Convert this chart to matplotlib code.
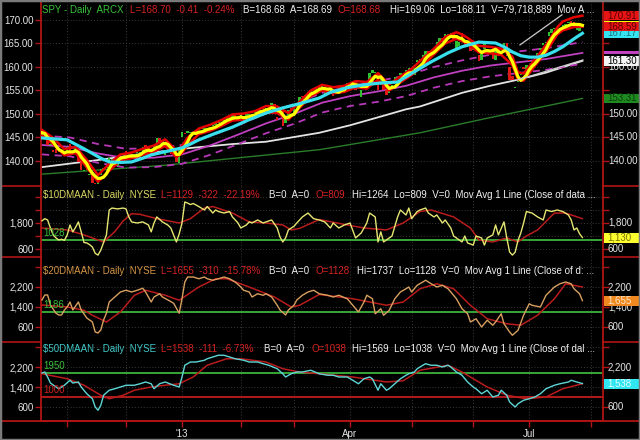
import numpy as np
import pandas as pd
import matplotlib
matplotlib.use("Agg")
import matplotlib.pyplot as plt
from matplotlib.patches import Rectangle
from matplotlib.lines import Line2D

plt.rcParams['font.family'] = ['Liberation Sans', 'DejaVu Sans']

# ------------------------------------------------------------------ data
holidays = ['2012-10-29', '2012-10-30', '2012-11-22', '2012-12-25', '2013-01-01',
            '2013-01-21', '2013-02-18', '2013-03-29', '2013-05-27', '2013-07-04']
first_day, last_cal_day = '2012-10-17', '2013-08-30'

spy_close = [
    146.0, 145.7, 143.4, 143.4, 141.9, 141.6, 141.9, 141.8, 141.4,
    143.0, 141.6, 141.9, 143.0, 139.7, 138.0, 138.1, 138.1, 137.3, 135.3, 135.0, 135.7, 138.4, 138.5, 138.7, 140.7, 140.4, 139.6, 140.8, 141.4, 141.5,
    140.8, 140.6, 140.9, 141.4, 141.8, 141.8, 142.9, 142.9, 142.0, 141.5, 143.2, 144.9, 143.8, 144.5, 142.4, 142.0, 141.5, 141.3, 139.8, 142.4,
    146.1, 145.7, 146.4, 145.9, 145.5, 145.9, 146.9, 146.9, 146.8, 146.9, 146.8, 147.6, 148.0, 148.4, 148.6, 148.6, 149.4, 149.1, 149.7, 149.1, 148.7,
    150.2, 148.4, 149.9, 150.0, 149.8, 150.7, 150.6, 150.9, 151.1, 151.2, 151.2, 152.3, 150.2, 148.7, 150.4, 147.5, 149.0, 150.9, 150.9,
    151.3, 152.1, 153.6, 153.7, 154.0, 154.7, 155.2, 154.9, 155.3, 156.0, 155.8, 155.0, 154.3, 155.5, 153.8, 155.0, 154.5, 156.2, 156.2, 156.7,
    156.1, 156.8, 155.2, 155.9, 155.2, 156.3, 156.8, 158.8, 159.4, 158.8, 155.1, 157.4, 155.1, 154.1, 155.5, 156.2, 157.8, 157.9, 158.5, 158.2, 159.3, 159.7,
    158.2, 159.8, 161.4, 161.8, 162.6, 163.3, 162.8, 163.4, 163.5, 165.4, 166.2, 165.3, 167.0, 166.9, 167.2, 165.9, 165.5, 165.4, 166.1, 164.4, 165.4, 163.4,
    164.4, 163.6, 161.3, 162.7, 165.0, 164.9, 163.1, 161.8, 164.1, 162.4, 163.8, 165.1, 162.3, 157.3, 157.2, 155.6, 157.1, 158.6, 159.6, 160.4,
    161.2, 161.0, 161.3, 163.0, 164.0, 165.2, 165.2, 167.5, 168.0, 168.4, 167.8, 168.3, 169.0, 169.2, 169.6, 169.1, 168.5, 168.9, 169.1, 168.7,
]
spy_open = [
    145.3, 146.0, 145.6, 143.3, 142.4, 142.6, 142.4, 141.7, 141.9,
    141.6, 143.6, 141.5, 142.2, 141.7, 139.8, 137.9, 138.5, 137.1, 137.6, 135.3, 135.2, 137.1, 138.3, 138.6, 139.2, 140.2, 140.3, 139.0, 141.3, 141.5,
    142.2, 140.9, 140.7, 140.9, 141.7, 141.6, 142.0, 143.3, 142.9, 141.8, 141.6, 143.3, 144.8, 143.9, 141.2, 142.3, 142.0, 141.6, 140.6, 139.6,
    145.1, 145.9, 145.9, 145.9, 145.7, 145.9, 146.6, 146.9, 146.7, 146.4, 146.7, 147.4, 147.6, 148.0, 148.6, 148.5, 148.9, 149.4, 148.9, 149.8, 149.0,
    149.6, 149.6, 148.7, 149.7, 150.1, 150.2, 150.6, 150.6, 151.3, 150.7, 151.3, 151.5, 152.1, 149.4, 149.6, 150.9, 148.0, 149.2, 151.2,
    150.1, 151.4, 152.5, 153.9, 153.8, 154.3, 154.6, 155.0, 154.9, 155.6, 155.7, 153.9, 155.2, 155.1, 154.4, 154.4, 155.7, 155.1, 155.4, 156.3,
    156.6, 156.3, 156.9, 155.3, 153.7, 155.3, 156.3, 157.1, 158.8, 158.8, 158.3, 156.2, 156.6, 155.2, 154.5, 155.7, 156.6, 157.6, 158.4, 158.1, 158.5, 159.2,
    159.6, 158.3, 161.0, 161.4, 161.9, 162.3, 163.3, 162.9, 163.2, 163.5, 165.2, 166.1, 165.7, 166.8, 166.9, 167.3, 163.7, 164.4, 167.3, 165.2, 164.6, 164.9,
    163.6, 164.5, 162.6, 161.4, 163.9, 165.1, 163.3, 164.2, 161.4, 163.8, 163.8, 163.8, 165.2, 160.1, 158.0, 155.5, 156.8, 158.2, 159.9, 159.6,
    161.4, 161.0, 160.0, 162.4, 163.6, 164.6, 165.0, 166.7, 167.3, 168.1, 168.3, 167.8, 168.5, 168.8, 169.4, 169.8, 169.6, 167.9, 167.6, 168.68,
]
yellow_window = 5

red_x = [0, 4, 8, 12, 16, 20, 24, 28, 32, 36, 40, 44, 48, 50, 52, 56, 60, 64, 68, 72, 76, 80, 84, 88, 92, 96,
         100, 104, 108, 112, 116, 120, 124, 128, 132, 136, 140, 144, 148, 150, 152, 156, 160, 164, 168, 170,
         172, 176, 180, 184, 186, 190, 193]
red_upper = [146.6, 144.9, 142.5, 143.0, 140.2, 137.0, 139.4, 141.4, 141.8, 142.6, 143.3, 144.6, 142.2, 143.2,
             145.0, 146.9, 147.7, 148.7, 149.9, 150.1, 150.6, 151.7, 151.6, 150.2, 152.6, 155.0, 156.2, 155.7,
             156.0, 157.0, 156.8, 158.7, 156.3, 158.0, 159.6, 161.8, 163.9, 166.4, 167.4, 166.9, 166.2, 164.5,
             164.3, 163.9, 162.2, 158.9, 158.6, 161.6, 164.7, 168.4, 169.7, 170.6, 170.91]
red_lower = [145.4, 143.6, 141.2, 141.7, 138.6, 135.6, 137.9, 140.1, 140.6, 141.3, 142.0, 143.2, 140.8, 141.7,
             143.4, 145.7, 146.4, 147.4, 148.6, 148.8, 149.3, 150.4, 150.2, 148.8, 151.3, 153.8, 155.0, 154.4,
             154.7, 155.7, 155.4, 157.3, 155.0, 156.7, 158.3, 160.3, 162.7, 165.0, 166.0, 165.5, 164.9, 163.1,
             162.9, 162.6, 160.4, 157.3, 157.1, 160.2, 163.2, 166.9, 167.8, 168.5, 168.59]

cyan_pts = [(0, 144.9), (9, 144.5), (15, 142.6), (21, 140.6), (24, 139.8), (28, 139.7), (32, 139.8), (36, 140.6),
            (39, 141.3), (45, 142.1), (50, 142.8), (53, 143.6), (56, 144.5), (62, 145.9), (68, 147.2), (74, 148.8),
            (80, 150.2), (86, 151.3), (92, 152.2), (99, 153.4), (103, 154.6), (109, 155.6), (115, 156.2),
            (121, 156.6), (127, 156.8), (133, 159.0), (139, 161.1), (145, 163.0), (150, 164.3), (156, 165.3),
            (162, 165.1), (165, 164.3), (168, 163.2), (171, 162.4), (174, 162.1), (177, 162.1), (180, 162.5),
            (183, 163.3), (186, 164.3), (190, 166.0), (193, 167.17)]

mag_x = [0, 10, 20, 30, 40, 50, 60, 70, 80, 90, 100, 110, 120, 130, 140, 150, 160, 170, 180, 193]
mag_mid = [143.4, 143.0, 141.6, 140.6, 140.7, 141.4, 143.3, 145.6, 148.0, 150.0, 152.4, 153.8, 154.8, 156.0,
           157.8, 159.2, 160.3, 161.0, 161.7, 163.0]
mag_up = [145.4, 145.0, 143.6, 142.6, 142.7, 143.4, 145.3, 147.6, 150.1, 152.1, 154.5, 155.9, 157.0, 158.2,
          160.0, 161.4, 162.6, 163.3, 164.0, 165.3]
mag_dn = [141.4, 141.0, 139.6, 138.6, 138.7, 139.4, 141.3, 143.6, 145.9, 147.9, 150.3, 151.7, 152.6, 153.8,
          155.6, 157.0, 158.0, 158.7, 159.4, 160.7]

white_pts = [(0, 138.7), (20, 140.2), (33, 141.3), (50, 142.6), (68, 143.6), (80, 144.1), (99, 146.0),
             (110, 147.6), (123, 149.8), (130, 151.0), (135, 151.6), (150, 154.5), (160, 156.0), (170, 157.3),
             (180, 158.8), (193, 161.30)]
green_pts = [(0, 137.2), (44, 139.1), (99, 142.4), (135, 146.0), (159, 149.1), (193, 153.31)]
trend_up = [(170.7, 164.7), (185.7, 171.1)]
trend_dn = [(169.6, 157.2), (193.2, 161.5)]

p10 = [(0, 1900), (1, 2000), (2, 1940), (3, 1570), (4, 1250), (5, 1110), (6, 1015), (7, 1050), (8, 1000), (9, 1250),
       (10, 1710), (11, 1390), (12, 1600), (13, 1850), (14, 1390), (15, 900), (16, 880), (17, 800), (18, 690),
       (19, 400), (20, 320), (21, 550), (22, 900), (23, 1250), (24, 2400), (25, 2490), (27, 2450), (29, 2490),
       (30, 2450), (31, 2080), (32, 1850), (34, 1800), (36, 1850), (38, 1710), (39, 1390), (40, 1800), (41, 2080),
       (43, 1850), (45, 1700), (46, 1570), (47, 1250), (48, 925), (49, 1300), (50, 1800), (51, 2770), (52, 2720),
       (53, 2650), (54, 2700), (55, 2630), (56, 2560), (58, 2400), (59, 2560), (61, 2260), (62, 2400), (63, 2330),
       (65, 2260), (67, 2330), (68, 2080), (69, 1940), (70, 1800), (71, 1570), (73, 1710), (74, 1850), (75, 1800),
       (77, 1940), (79, 1800), (80, 1850), (82, 1940), (84, 1570), (85, 1150), (86, 925), (87, 1110), (88, 1480),
       (90, 1650), (91, 1800), (93, 2080), (95, 2260), (97, 2000), (99, 1940), (101, 1850), (103, 1570),
       (104, 1800), (106, 1570), (108, 1710), (110, 1800), (112, 1110), (114, 1340), (116, 1800), (117, 2260),
       (119, 2080), (120, 925), (121, 1390), (122, 925), (124, 1110), (125, 1200), (127, 2080), (128, 2400),
       (130, 2170), (131, 2490), (132, 2000), (134, 2330), (135, 2400), (137, 2490), (138, 2260), (140, 2080),
       (141, 2170), (143, 1800), (144, 1940), (146, 1570), (147, 1200), (148, 1110), (150, 925), (151, 1200),
       (152, 880), (154, 780), (155, 1200), (157, 1110), (158, 780), (159, 1110), (161, 1250), (162, 1710),
       (163, 1250), (165, 1850), (166, 1110), (167, 460), (168, 320), (169, 460), (170, 1000), (171, 1340),
       (172, 1800), (173, 2330), (175, 2260), (177, 2080), (179, 1940), (180, 2400), (182, 2330), (184, 2400),
       (186, 2330), (188, 2170), (189, 1940), (190, 1480), (191, 1570), (192, 1300), (193, 1130)]
r10 = [(0, 1570), (9, 1480), (15, 1250), (22, 925), (26, 1400), (29, 1900), (32, 2230), (35, 2200), (41, 2000),
       (47, 1850), (49, 1800), (53, 2000), (58, 2490), (61, 2560), (68, 2260), (74, 1850), (80, 1800), (86, 1710),
       (89, 1480), (92, 1550), (99, 1960), (109, 1710), (115, 1570), (123, 1480), (129, 1800), (135, 2330),
       (139, 2400), (147, 2080), (153, 1570), (156, 1020), (161, 925), (166, 1110), (170, 925), (173, 1200),
       (177, 1480), (183, 2260), (187, 2260), (193, 2000)]

p20 = [(0, 1680), (1, 1880), (2, 1880), (3, 1480), (5, 1150), (6, 1080), (7, 1080), (8, 1280), (9, 1400), (10, 1600),
       (11, 1280), (13, 1600), (14, 1280), (16, 960), (18, 800), (19, 400), (20, 360), (21, 480), (22, 880),
       (23, 1150), (24, 1600), (26, 1800), (28, 2000), (30, 2070), (32, 2000), (34, 2070), (36, 2150), (37, 2000),
       (39, 1600), (40, 1800), (42, 1930), (43, 1800), (45, 1680), (47, 1550), (49, 1150), (50, 1730), (51, 2400),
       (52, 2600), (54, 2600), (56, 2530), (58, 2600), (59, 2530), (61, 2470), (63, 2530), (65, 2600), (67, 2530),
       (69, 2400), (71, 2200), (72, 2070), (74, 2000), (75, 1800), (77, 1930), (79, 1870), (80, 1930), (82, 1800),
       (84, 1470), (85, 1280), (87, 1080), (88, 1280), (90, 1470), (91, 1680), (93, 1870), (95, 2000), (97, 2070),
       (99, 1930), (102, 1870), (104, 1800), (106, 1870), (109, 1730), (111, 1470), (113, 1200), (115, 1600),
       (116, 1870), (118, 1730), (119, 1130), (121, 1330), (122, 1070), (124, 1270), (126, 1730), (128, 2000),
       (130, 2130), (131, 2200), (132, 2000), (134, 2270), (136, 2400), (137, 2470), (139, 2330), (141, 2200),
       (143, 2270), (145, 2130), (146, 2000), (148, 1730), (150, 1330), (152, 1130), (153, 800), (155, 930),
       (157, 600), (159, 870), (161, 670), (162, 800), (164, 1130), (165, 730), (167, 400), (168, 270), (170, 470),
       (172, 1070), (174, 1530), (175, 1470), (178, 1400), (180, 1870), (183, 2200), (185, 2330), (187, 2400),
       (189, 2330), (190, 2130), (192, 1930), (193, 1655)]
r20 = [(0, 1480), (9, 1400), (15, 1270), (18, 1070), (23, 800), (28, 1200), (33, 1870), (37, 2070), (44, 1870),
       (49, 1670), (56, 2200), (62, 2530), (66, 2530), (74, 2200), (83, 1800), (89, 1400), (92, 1470), (99, 1900),
       (111, 1730), (123, 1470), (129, 1600), (135, 2130), (141, 2330), (147, 2130), (153, 1470), (159, 930),
       (166, 730), (171, 670), (177, 1070), (183, 1730), (187, 2330), (193, 2200)]

p50 = [(0, 1960), (1, 2000), (2, 1800), (3, 1560), (5, 1400), (6, 1330), (8, 1470), (10, 1670), (11, 1560),
       (13, 1600), (14, 1400), (16, 1130), (18, 930), (19, 600), (20, 470), (21, 670), (22, 1070), (24, 1270),
       (26, 1330), (28, 1400), (30, 1470), (33, 1470), (35, 1530), (37, 1600), (39, 1530), (40, 1330), (42, 1530),
       (44, 1600), (47, 1470), (49, 1400), (50, 1800), (51, 2270), (53, 2400), (55, 2400), (58, 2470), (59, 2530),
       (61, 2600), (63, 2670), (65, 2670), (67, 2600), (69, 2530), (72, 2470), (74, 2400), (77, 2400), (79, 2330),
       (81, 2270), (84, 2130), (86, 1930), (87, 1800), (89, 1930), (91, 2000), (93, 2000), (96, 2070), (99, 1930),
       (102, 1870), (104, 1870), (106, 1800), (109, 1800), (111, 1670), (113, 1530), (115, 1730), (117, 1800),
       (118, 1730), (120, 1270), (121, 1530), (123, 1270), (124, 1330), (126, 1530), (128, 1730), (130, 1870),
       (131, 1930), (133, 2000), (134, 2130), (136, 2270), (137, 2330), (139, 2270), (141, 2270), (143, 2200),
       (145, 2270), (146, 2200), (148, 2000), (150, 1870), (152, 1600), (154, 1400), (155, 1330), (157, 1130),
       (159, 1270), (161, 1000), (163, 1070), (164, 1270), (166, 1070), (167, 800), (169, 600), (170, 730),
       (172, 870), (174, 930), (176, 1000), (178, 1130), (180, 1330), (183, 1470), (185, 1530), (188, 1600),
       (189, 1670), (191, 1600), (193, 1538)]
r50 = [(0, 1930), (9, 1730), (15, 1470), (21, 1070), (24, 930), (29, 1070), (33, 1270), (39, 1400), (44, 1470),
       (49, 1530), (54, 1800), (59, 2270), (66, 2530), (71, 2530), (80, 2400), (86, 2130), (92, 2000), (99, 1930),
       (111, 1800), (123, 1600), (129, 1650), (135, 2070), (145, 2270), (150, 2000), (159, 1400), (166, 1070),
       (173, 930), (180, 1000), (186, 1330), (193, 1530)]

level_10 = 1028
level_20 = 1186
level_50_hi = 1950
level_50_lo = 1000

price_ticks = [140, 145, 150, 155, 160, 165, 170]
price_right = [140, 145, 150, 160]
ticks_10 = [600, 1200, 1800, 2400, 3000]
labels_10 = [600, 1800]
right_10 = [600, 1800]
ticks_2050 = [600, 1400, 2200, 3000]
labels_2050 = [600, 1400, 2200]
right_20 = [600, 1400, 2200]
right_50 = [600, 2200]
month_names = {1: "'13", 4: 'Apr', 7: 'Jul'}

hdr_spy = ['SPY - Daily  ARCX', 'L=168.70  -0.41  -0.24%', 'B=168.68  A=168.69', 'O=168.68',
           'Hi=169.06  Lo=168.11  V=79,718,889  Mov A ...']
hdr_10 = ['$10DMAAN - Daily  NYSE', 'L=1129  -322  -22.19%', 'B=0  A=0', 'O=809',
          'Hi=1264  Lo=809  V=0  Mov Avg 1 Line (Close of data ...']
hdr_20 = ['$20DMAAN - Daily  NYSE', 'L=1655  -310  -15.78%', 'B=0  A=0', 'O=1128',
          'Hi=1737  Lo=1128  V=0  Mov Avg 1 Line (Close of d: ...']
hdr_50 = ['$50DMAAN - Daily  NYSE', 'L=1538  -111  -6.73%', 'B=0  A=0', 'O=1038',
          'Hi=1569  Lo=1038  V=0  Mov Avg 1 Line (Close of dal ...']

assert len(spy_close) == 194 and len(spy_open) == 194
assert len(red_x) == len(red_upper) == len(red_lower)
assert len(mag_x) == len(mag_mid) == len(mag_up) == len(mag_dn)

# ------------------------------------------------------------------ calendar
cal = pd.bdate_range(first_day, last_cal_day)
cal = cal[~cal.isin(pd.to_datetime(holidays))]
month_idx = [i for i in range(1, len(cal)) if cal[i].month != cal[i - 1].month]
month_lab = [month_names.get(cal[i].month, '') for i in month_idx]
days = np.arange(len(spy_close))

# ------------------------------------------------------------------ style
W_PX, H_PX = 640, 440
AX_L, AX_R = 41, 603
XMIN = (AX_L - 42) / 2.8
XMAX = (AX_R - 42) / 2.8
AXC = '#b01414'
LABC = '#e6e6e6'
GRIDC = '#3a3a3a'
RED_T = '#d62222'
WHITE_T = '#f0f0f0'
FS = 7

fig = plt.figure(figsize=(W_PX / 100, H_PX / 100), dpi=100, facecolor='black')


def make_ax(top, bot):
    return fig.add_axes([AX_L / W_PX, 1 - bot / H_PX, (AX_R - AX_L) / W_PX, (bot - top) / H_PX])


ax1 = make_ax(2, 186)
ax2 = make_ax(186, 257)
ax3 = make_ax(257, 342)
ax4 = make_ax(342, 421)


def base_style(ax, ylim, yticks, ylabels):
    ax.set_facecolor('black')
    ax.set_xlim(XMIN, XMAX)
    ax.set_ylim(*ylim)
    for s in ('top', 'bottom'):
        ax.spines[s].set_visible(False)
    for s in ('left', 'right'):
        ax.spines[s].set_color(AXC)
        ax.spines[s].set_linewidth(1.3)
    ax.set_yticks(yticks)
    ax.set_yticklabels(ylabels)
    ax.tick_params(axis='y', left=True, right=True, direction='out', length=4, width=1,
                   color=AXC, labelcolor=LABC, labelsize=FS, pad=1.5,
                   labelleft=True, labelright=False)
    ax.set_xticks(month_idx)
    ax.tick_params(axis='x', bottom=False, labelbottom=False)
    ax.grid(True, color=GRIDC, linestyle=(0, (1, 2)), linewidth=0.7)
    ax.set_axisbelow(True)


base_style(ax1, (134.68, 173.83), price_ticks, [f'{v:.2f}' for v in price_ticks])
base_style(ax2, (231, 3507), ticks_10, [f'{v:,}' if v in labels_10 else '' for v in ticks_10])
base_style(ax3, (0, 3400), ticks_2050, [f'{v:,}' if v in labels_2050 else '' for v in ticks_2050])
base_style(ax4, (40, 3200), ticks_2050, [f'{v:,}' if v in labels_2050 else '' for v in ticks_2050])

ax4.spines['bottom'].set_visible(True)
ax4.spines['bottom'].set_color(AXC)
ax4.spines['bottom'].set_linewidth(1.3)
ax4.set_xticks(month_idx)
ax4.set_xticklabels(month_lab)
ax4.tick_params(axis='x', bottom=True, labelbottom=True, direction='out', length=4, width=1,
                color=AXC, labelcolor=LABC, labelsize=FS, pad=2)


def xy(pts):
    a = np.array(pts, dtype=float)
    return a[:, 0], a[:, 1]


# ------------------------------------------------------------------ main panel
ax1.plot(*xy(green_pts), color='#2a7c2a', lw=1.0, zorder=2)
ax1.plot(*xy(white_pts), color='#e4e4e4', lw=1.3, zorder=2)
ax1.plot(mag_x, mag_mid, color='#c040c0', lw=1.3, zorder=2)
ax1.plot(mag_x, mag_up, color='#b838b8', lw=1.3, ls=(0, (4, 3)), zorder=2)
ax1.plot(mag_x, mag_dn, color='#b838b8', lw=1.3, ls=(0, (4, 3)), zorder=2)

o = np.array(spy_open)
c = np.array(spy_close)
up = c >= o
ax1.bar(days, np.maximum(np.abs(c - o), 0.22), bottom=np.minimum(o, c), width=0.8,
        color=np.where(up, '#2fc02f', '#e01818'), linewidth=0, zorder=3)

ax1.plot(red_x, red_upper, color='#e60000', lw=1.8, zorder=4)
ax1.plot(red_x, red_lower, color='#e60000', lw=1.8, zorder=4)
yellow = pd.Series(spy_close).rolling(yellow_window, min_periods=1).mean()
ax1.plot(days, yellow, color='#ffff00', lw=2.3, zorder=5)
ax1.plot(*xy(cyan_pts), color='#38e0ee', lw=2.3, zorder=6)
ax1.plot(*xy(trend_up), color='#cccccc', lw=0.9, zorder=7)
ax1.plot(*xy(trend_dn), color='#cccccc', lw=0.9, zorder=7)

# ------------------------------------------------------------------ breadth panels
ax2.axhline(level_10, color='#3cb43c', lw=1.3, zorder=2)
ax2.plot(*xy(r10), color='#b81c1c', lw=1.1, zorder=3)
ax2.plot(*xy(p10), color='#e6e672', lw=1.0, zorder=4)

ax3.axhline(level_20, color='#3cb43c', lw=1.3, zorder=2)
ax3.plot(*xy(r20), color='#b81c1c', lw=1.1, zorder=3)
ax3.plot(*xy(p20), color='#d8a060', lw=1.0, zorder=4)

ax4.axhline(level_50_hi, color='#3cb43c', lw=1.3, zorder=2)
ax4.axhline(level_50_lo, color='#c01c1c', lw=1.3, zorder=2)
ax4.plot(*xy(r50), color='#b81c1c', lw=1.1, zorder=3)
ax4.plot(*xy(p50), color='#5ed6d6', lw=1.0, zorder=4)

for ax, lvl, col in [(ax2, level_10, '#3cc03c'), (ax3, level_20, '#3cc03c'),
                     (ax4, level_50_hi, '#3cc03c'), (ax4, level_50_lo, '#d02020')]:
    ax.annotate(f'{lvl}', xy=(XMIN, lvl), xytext=(2, 1.5), textcoords='offset points',
                color=col, fontsize=FS, va='bottom', ha='left', zorder=8)

# ------------------------------------------------------------------ headers
GREEN_T = '#38c238'
hdr_x = {
    'spy': [42, 130, 243, 338, 390],
    'p10': [43, 161, 269, 315, 352],
    'p20': [43, 161, 269, 315, 357],
    'p50': [43, 161, 264, 312, 352],
}
hdr_rows = [
    (10, hdr_spy, hdr_x['spy'], GREEN_T),
    (195, hdr_10, hdr_x['p10'], '#d8d862'),
    (270.5, hdr_20, hdr_x['p20'], '#d49444'),
    (349, hdr_50, hdr_x['p50'], '#42c8c8'),
]
for ypx, parts, xs, c0 in hdr_rows:
    cols = [c0, RED_T, WHITE_T, RED_T, WHITE_T]
    for xp, txt, col in zip(xs, parts, cols):
        fig.text(xp / W_PX, 1 - ypx / H_PX, txt, color=col, fontsize=FS, va='center', ha='left',
                 zorder=20, parse_math=False)


# ------------------------------------------------------------------ right axis labels and value boxes
def disp_y(ax, v):
    return ax.transData.transform((0, v))[1]


def right_labels(ax, vals, fmt):
    for v in vals:
        fig.text((AX_R + 5) / W_PX, disp_y(ax, v) / H_PX, fmt(v), color=LABC, fontsize=FS,
                 va='center', ha='left', zorder=5)


right_labels(ax1, price_right, lambda v: f'{v:.2f}')
right_labels(ax2, right_10, lambda v: f'{v:,}')
right_labels(ax3, right_20, lambda v: f'{v:,}')
right_labels(ax4, right_50, lambda v: f'{v:,}')


def vbox(ax, val, text, bg, fg, h=9, z=10):
    y = disp_y(ax, val)
    fig.add_artist(Rectangle((AX_R / W_PX + 1 / W_PX, (y - h / 2) / H_PX), (W_PX - AX_R) / W_PX, h / H_PX,
                             transform=fig.transFigure, facecolor=bg, edgecolor='none', zorder=z))
    if text:
        fig.text((AX_R + 4) / W_PX, y / H_PX, text, color=fg, fontsize=FS, va='center', ha='left',
                 zorder=z + 0.5)


vbox(ax1, cyan_pts[-1][1], f'{cyan_pts[-1][1]:.2f}', '#34e4f0', '#1b7880', z=10)
vbox(ax1, yellow.iloc[-1], '', '#ffff00', '#000000', z=11)
vbox(ax1, red_lower[-1], f'{red_lower[-1]:.2f}', '#e61414', '#5a0000', z=12)
vbox(ax1, red_upper[-1], f'{red_upper[-1]:.2f}', '#e61414', '#5a0000', z=13)
vbox(ax1, mag_mid[-1], '', '#c040c0', '#000000', h=3, z=10)
vbox(ax1, white_pts[-1][1], f'{white_pts[-1][1]:.2f}', '#f4f4f4', '#000000', h=10, z=10)
vbox(ax1, green_pts[-1][1], f'{green_pts[-1][1]:.2f}', '#1f8a1f', '#0c3c0c', z=10)

vbox(ax2, p10[-1][1], f'{p10[-1][1]:,.0f}', '#ffff30', '#7a7000', h=10, z=10)
vbox(ax3, p20[-1][1], f'{p20[-1][1]:,.0f}', '#f08a20', '#ffe4c8', h=10, z=10)
vbox(ax4, p50[-1][1], f'{p50[-1][1]:,.0f}', '#30e6f0', '#e4ffff', h=10, z=10)

# ------------------------------------------------------------------ frame / separators
for ypx in (186, 257, 342):
    fig.add_artist(Line2D([0, AX_L / W_PX], [1 - ypx / H_PX] * 2, transform=fig.transFigure,
                          color=AXC, lw=1.2, zorder=9))
    fig.add_artist(Line2D([AX_R / W_PX, 1], [1 - ypx / H_PX] * 2, transform=fig.transFigure,
                          color=AXC, lw=1.2, zorder=9))
fig.add_artist(Line2D([0, 1], [1 - 421 / H_PX] * 2, transform=fig.transFigure, color=AXC, lw=1.3, zorder=9))
fig.add_artist(Rectangle((0, 0), 1, 1, transform=fig.transFigure, fill=False, edgecolor='#7a7a7a',
                         lw=2.5, zorder=30))

fig.savefig('out.png', dpi=100, facecolor='black')
